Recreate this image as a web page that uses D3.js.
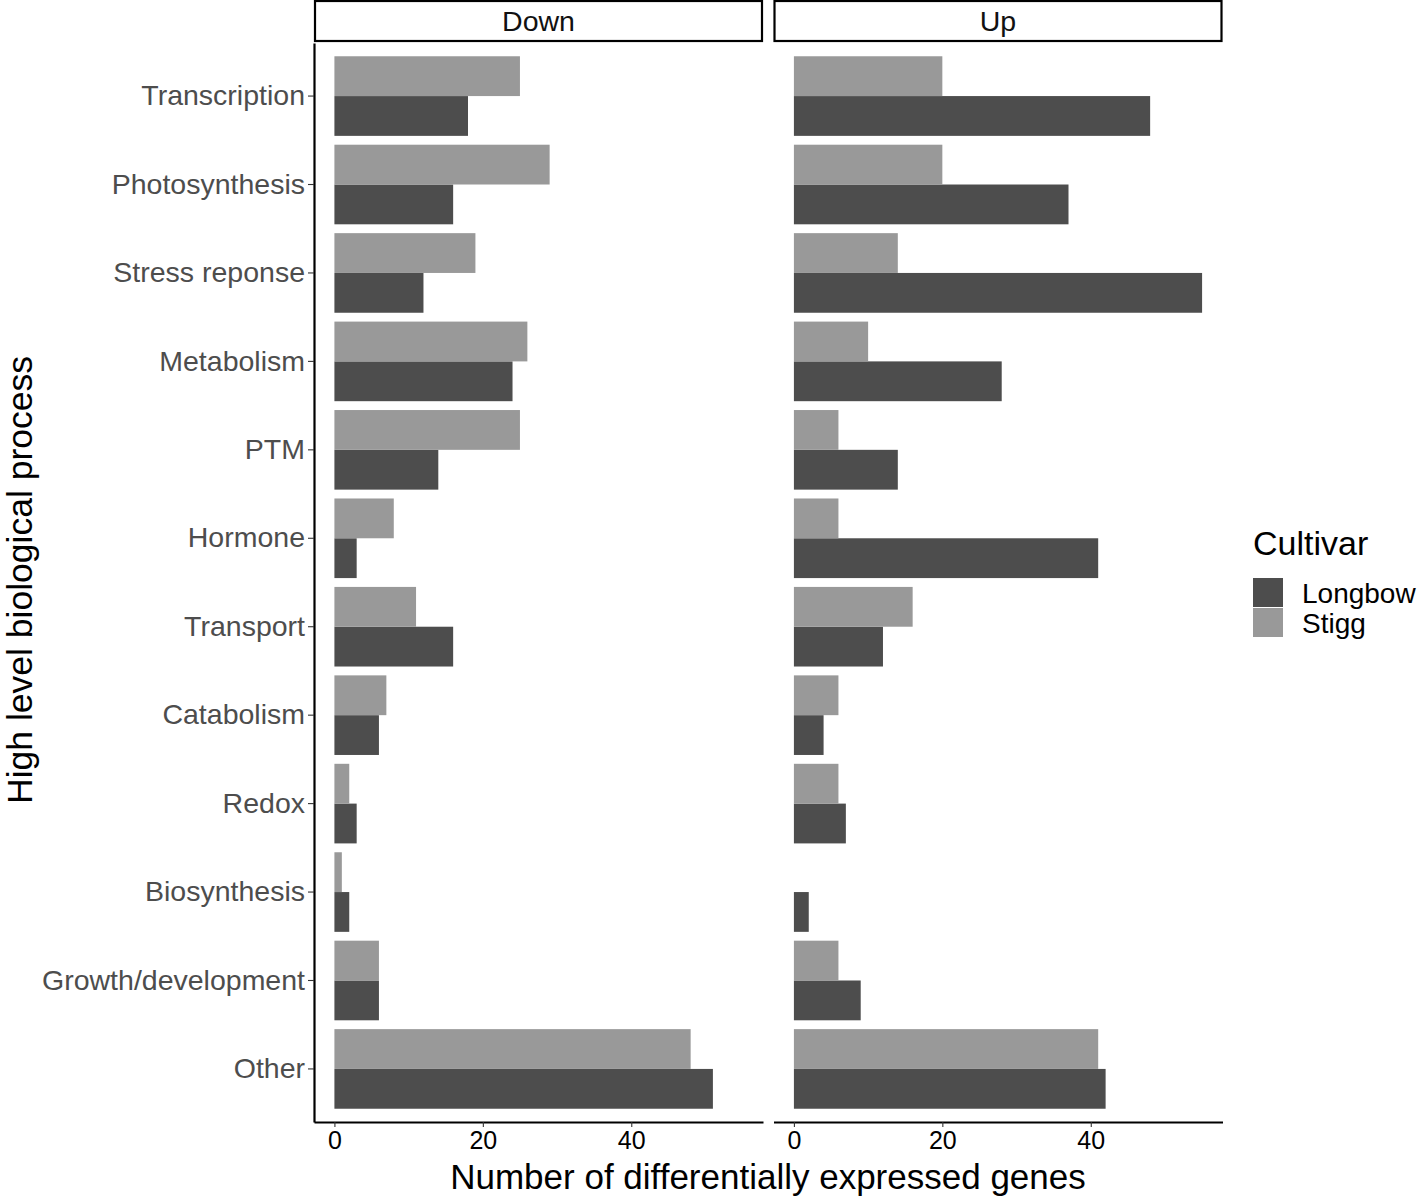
<!DOCTYPE html>
<html><head><meta charset="utf-8">
<script src="https://cdn.jsdelivr.net/npm/d3@7"></script>
<style>body{margin:0;background:#fff}svg{display:block}text{font-family:"Liberation Sans",Arial,Helvetica,sans-serif}</style>
</head><body>
<script>
const categories = ["Transcription","Photosynthesis","Stress reponse","Metabolism","PTM","Hormone","Transport","Catabolism","Redox","Biosynthesis","Growth/development","Other"];
const facets = ["Down","Up"];
const cultivars = ["Longbow","Stigg"];
const downLongbow = [18,16,12,24,14,3,16,6,3,2,6,51];
const downStigg   = [25,29,19,26,25,8,11,7,2,1,6,48];
const upLongbow   = [48,37,55,28,14,41,12,4,7,2,9,42];
const upStigg     = [20,20,14,10,6,6,16,6,6,0,6,41];
const xTicks = [0,20,40];
const colors = {"Longbow":"#4d4d4d","Stigg":"#999999"};

const values = {Down:{Longbow:downLongbow,Stigg:downStigg},Up:{Longbow:upLongbow,Stigg:upStigg}};

const W=1418,H=1196;
const svg=d3.select("body").append("svg").attr("width",W).attr("height",H);
const panelTop=43,panelBottom=1122;
const panels=[{f:facets[0],x0:314,x1:763},{f:facets[1],x0:773.5,x1:1222.5}];
const maxV=d3.max([...downLongbow,...downStigg,...upLongbow,...upStigg]);
const pad=maxV*0.05;

const y=d3.scaleBand().domain(categories).range([panelTop,panelBottom]).paddingInner(0.1).paddingOuter(0.15);
const yIn=d3.scaleBand().domain(["Stigg","Longbow"]).range([0,y.bandwidth()]);

panels.forEach((p,pi)=>{
  const x=d3.scaleLinear().domain([-pad,maxV+pad]).range([p.x0,p.x1]);
  const g=svg.append("g");
  cultivars.forEach(c=>{
    g.selectAll(null).data(categories).enter().append("rect")
      .attr("x",x(0))
      .attr("y",(d)=>y(d)+yIn(c))
      .attr("width",(d,i)=>Math.max(0,x(values[p.f][c][i])-x(0)))
      .attr("height",yIn.bandwidth())
      .attr("fill",colors[c]);
  });
  const xa=g.append("g").attr("transform",`translate(0,${panelBottom})`)
    .call(d3.axisBottom(x).tickValues(xTicks).tickSize(5).tickPadding(4).tickSizeOuter(0));
  xa.select(".domain").attr("stroke","#000").attr("stroke-width",2.2);
  xa.selectAll(".tick line").attr("stroke","#333").attr("stroke-width",1.1);
  xa.selectAll(".tick text").attr("fill","#000").style("font-size","25px");
  if(pi===0){
    const ya=g.append("g").attr("transform",`translate(${p.x0},0)`)
      .call(d3.axisLeft(y).tickSize(6).tickPadding(3).tickSizeOuter(0));
    ya.select(".domain").attr("stroke","#000").attr("stroke-width",2.2);
    ya.selectAll(".tick line").attr("stroke","#333").attr("stroke-width",1.1);
    ya.selectAll(".tick text").attr("fill","#4d4d4d").style("font-size","28.5px");
  }
  g.append("rect").attr("x",p.x0+1).attr("y",1).attr("width",p.x1-p.x0-2).attr("height",40)
    .attr("fill","#fff").attr("stroke","#000").attr("stroke-width",2.2);
  g.append("text").attr("x",(p.x0+p.x1)/2).attr("y",21).attr("dy","0.35em")
    .attr("text-anchor","middle").style("font-size","28.5px").attr("fill","#111").text(p.f);
});

svg.append("text").attr("x",768).attr("y",1189).attr("text-anchor","middle")
  .style("font-size","35px").attr("fill","#000").text("Number of differentially expressed genes");
svg.append("text").attr("transform","translate(32,580) rotate(-90)").attr("text-anchor","middle")
  .style("font-size","35.5px").attr("fill","#000").text("High level biological process");

const lg=svg.append("g");
lg.append("text").attr("x",1253).attr("y",555).style("font-size","34px").attr("fill","#000").text("Cultivar");
cultivars.forEach((c,i)=>{
  lg.append("rect").attr("x",1253).attr("y",578+i*30).attr("width",30).attr("height",29).attr("fill",colors[c]);
  lg.append("text").attr("x",1302).attr("y",593+i*30).attr("dy","0.35em").style("font-size","28px").attr("fill","#000").text(c);
});
</script>
</body></html>
